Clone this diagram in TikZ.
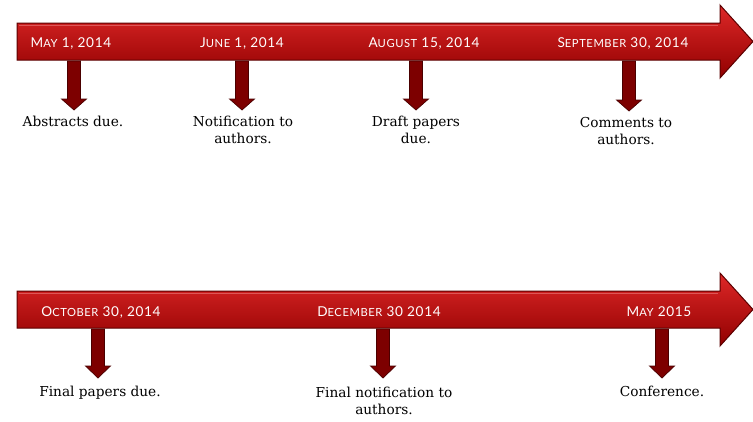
\documentclass[tikz,border=0pt]{standalone}
\usepackage{fontspec}
\newfontfamily\datefont{Lato}[LetterSpace=5]
\newfontfamily\lblfont{DejaVu Serif}
\newcommand\SC[1]{{\fontsize{11.2}{12}\selectfont #1}}
\definecolor{edgered}{RGB}{92,0,0}
\definecolor{bartop}{RGB}{222,40,40}
\definecolor{barmid}{RGB}{194,6,6}
\definecolor{barbot}{RGB}{145,0,0}
\definecolor{shaftdark}{RGB}{125,0,0}
\definecolor{shaftmid}{RGB}{215,20,20}
\newcommand\bigarrow[2]{%
  \path[draw=edgered, line width=1pt, line join=miter, top color=bartop, middle color=barmid, bottom color=barbot]
    (17,#1) -- (720,#1) -- (720,{#1-18}) -- (753,{(#1+#2)/2}) -- (720,{#2+18}) -- (720,#2) -- (17,#2) -- cycle;
  \draw[bartop!60!white, line width=1pt, opacity=0.6] (19,{#1+2.5}) -- (718,{#1+2.5});
}
\newcommand\smallarrow[4]{%
  \path[draw=edgered!80!black, line width=0.7pt, line join=miter, left color=shaftdark, middle color=shaftmid, right color=shaftdark]
    ({#1-6.5},#2) -- ({#1+6.5},#2) -- ({#1+6.5},#3) -- ({#1+12.5},#3) -- (#1,#4) -- ({#1-12.5},#3) -- ({#1-6.5},#3) -- cycle;
}
\begin{document}
\begin{tikzpicture}[x=1pt,y=-1pt,
  date/.style={font=\datefont\fontsize{13.6}{14}\selectfont, text=white, anchor=base, inner sep=0pt},
  lbl/.style={font=\lblfont\fontsize{13.7}{17}\selectfont, align=center, anchor=north, inner sep=0pt}]
\useasboundingbox (0,0) rectangle (753,421);
\fill[white] (0,0) rectangle (753,421);
% top timeline
\bigarrow{23}{60}
\smallarrow{74}{61}{99}{110}
\smallarrow{242}{61}{99}{110}
\smallarrow{416}{61}{99}{110}
\smallarrow{629}{61}{100}{111}
\node[date] (d1) at (71,47) {M\SC{AY} 1, 2014};
\node[date] (d2) at (242,47) {J\SC{UNE} 1, 2014};
\node[date] (d3) at (424,47) {A\SC{UGUST} 15, 2014};
\node[date] (d4) at (623,47) {S\SC{EPTEMBER} 30, 2014};
\node[lbl] (l1) at (73,116) {Abstracts due.};
\node[lbl] (l2) at (243,116) {Notification to\\authors.};
\node[lbl] (l3) at (416,116) {Draft papers\\due.};
\node[lbl] (l4) at (626,117) {Comments to\\authors.};
% bottom timeline
\bigarrow{291}{328}
\smallarrow{98}{329}{366}{378}
\smallarrow{383}{329}{366}{378}
\smallarrow{662}{329}{366}{378}
\node[date] (d5) at (101,316) {O\SC{CTOBER} 30, 2014};
\node[date] (d6) at (379,316) {D\SC{ECEMBER} 30 2014};
\node[date] (d7) at (659,316) {M\SC{AY} 2015};
\node[lbl] (l5) at (100,386) {Final papers due.};
\node[lbl] (l6) at (384,387) {Final notification to\\authors.};
\node[lbl] (l7) at (662,386) {Conference.};
\end{tikzpicture}
\end{document}
